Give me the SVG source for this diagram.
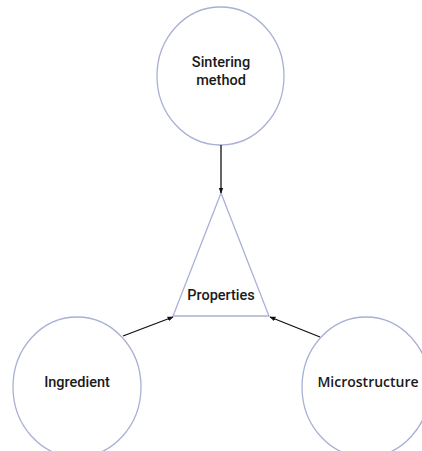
<svg xmlns="http://www.w3.org/2000/svg" width="422" height="451" viewBox="0 0 422 451">
<style>
.n{fill:#ffffff;stroke:#a9b0d6;stroke-width:1.3}
.t{font-family:Roboto,"Liberation Sans",sans-serif;font-size:14.5px;font-weight:500;fill:#1a1a1a;text-anchor:middle}
.m{font-family:"Open Sans","Noto Sans",sans-serif;font-size:14px;font-weight:600}
.c{stroke:#111;stroke-width:1.3;fill:none;marker-end:url(#ah)}
</style>
<defs>
<marker id="ah" viewBox="0 0 10 10" refX="9" refY="5" markerWidth="6" markerHeight="6" orient="auto" markerUnits="userSpaceOnUse">
<path d="M0,1 L10,5 L0,9 z" fill="#111"/>
</marker>
</defs>
<rect width="422" height="451" fill="#ffffff"/>
<g id="sintering">
<ellipse class="n" cx="220.5" cy="76" rx="63.5" ry="69"/>
<text class="t" x="221" y="67">Sintering</text>
<text class="t" x="221" y="85">method</text>
</g>
<g id="properties">
<polygon class="n" points="221,193 173,316 269,316"/>
<text class="t" x="221" y="300">Properties</text>
</g>
<g id="ingredient">
<ellipse class="n" cx="77" cy="387" rx="64" ry="70"/>
<text class="t" x="77" y="387">Ingredient</text>
</g>
<g id="microstructure">
<ellipse class="n" cx="366" cy="387" rx="64" ry="70"/>
<text class="t m" x="368" y="387">Microstructure</text>
</g>
<g id="connectors">
<line class="c" x1="221" y1="145" x2="221" y2="193"/>
<line class="c" x1="123" y1="336" x2="173" y2="317"/>
<line class="c" x1="320" y1="337" x2="270" y2="317"/>
</g>
</svg>
